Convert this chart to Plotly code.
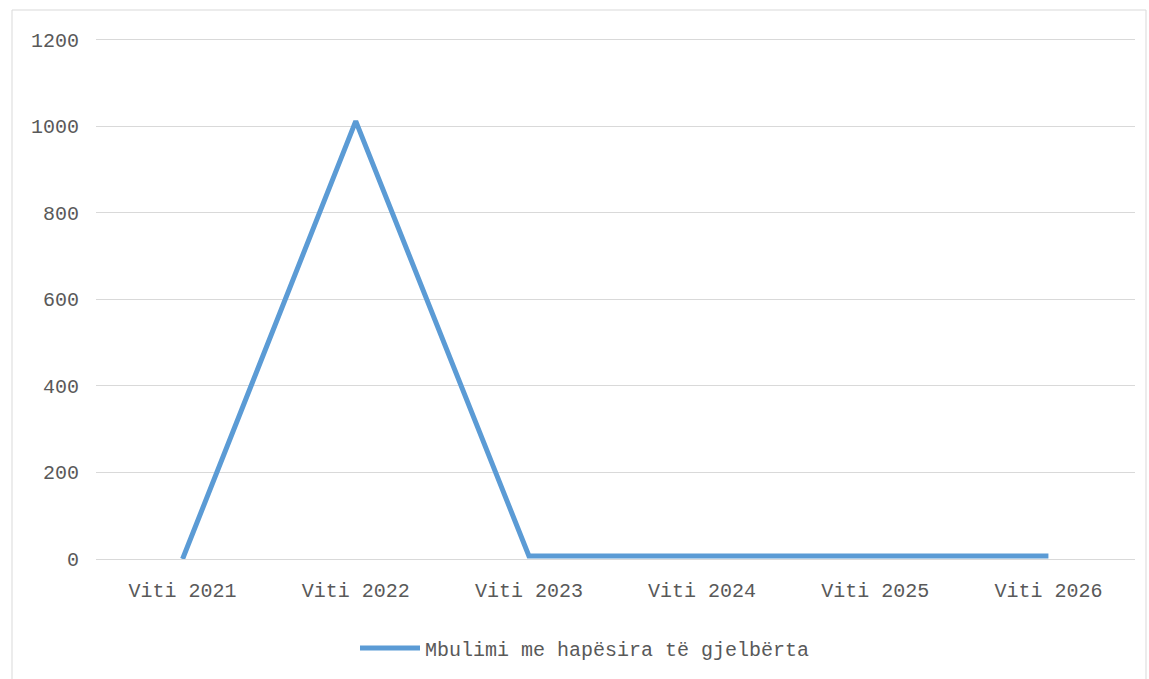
import plotly.graph_objects as go

categories = ["Viti 2021", "Viti 2022", "Viti 2023", "Viti 2024", "Viti 2025", "Viti 2026"]
values = [0, 1012, 7, 7, 7, 7]
series_name = "Mbulimi me hapësira të gjelbërta"
y_ticks = [0, 200, 400, 600, 800, 1000, 1200]

W, H = 1149, 679
L, R, T, B = 96, 14, 38, 120
pw, ph = W - L - R, H - T - B

def px_x(x):
    return (x - L) / pw

def px_y(y):
    return (H - B - y) / ph

font = dict(family="Liberation Mono, monospace", size=20, color="#595959")

fig = go.Figure()
fig.add_trace(go.Scatter(
    x=categories, y=values, mode="lines", name=series_name,
    line=dict(color="#5B9BD5", width=5),
))

fig.update_layout(
    width=W, height=H,
    margin=dict(l=L, r=R, t=T, b=B, autoexpand=False),
    paper_bgcolor="white", plot_bgcolor="white",
    font=font,
    showlegend=True,
    legend=dict(orientation="h", x=px_x(585), xanchor="center",
                y=px_y(648), yanchor="middle", font=font, itemwidth=60),
    xaxis=dict(type="category", range=[-0.5, 5.5], showgrid=False, showline=True,
               linecolor="#D9D9D9", linewidth=1, ticks="", tickfont=font,
               ticklabelstandoff=13, automargin=False, fixedrange=True),
    yaxis=dict(range=[0, 1204], tickvals=y_ticks, showgrid=True, gridcolor="#D9D9D9",
               gridwidth=1, zeroline=False, showline=False, ticks="", ticklen=0,
               tickfont=font, ticklabelstandoff=16, automargin=False, fixedrange=True),
    shapes=[dict(type="rect", xref="paper", yref="paper",
                 x0=px_x(12), x1=px_x(1146), y0=px_y(695), y1=px_y(10),
                 line=dict(color="#D9D9D9", width=1), fillcolor="rgba(0,0,0,0)",
                 layer="below")],
)

fig.write_html("out.html", config={"displayModeBar": False},
               post_script="document.body.style.margin='0';document.body.style.padding='0';")
